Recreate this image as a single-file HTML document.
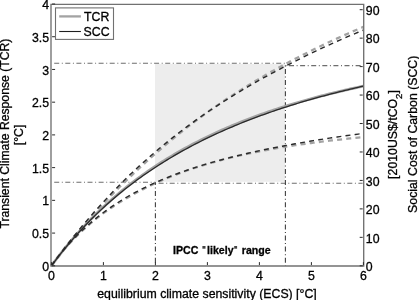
<!DOCTYPE html>
<html><head><meta charset="utf-8"><style>
html,body{margin:0;padding:0;background:#fff;width:419px;height:300px;overflow:hidden}
svg{display:block;will-change:transform}
text{font-family:"Liberation Sans",sans-serif;fill:#000;stroke:#000;stroke-width:0.3px}
</style></head><body>
<svg width="419" height="300" viewBox="0 0 419 300">
<rect x="155.0" y="64.0" width="130.00" height="117.80" fill="#ededed"/>
<path d="M52.20,63.25 L285.40,63.25" stroke="#6e6e6e" stroke-width="1.15" fill="none" stroke-dasharray="5 2.6 1 2.5" stroke-dashoffset="9.10"/>
<path d="M285.40,65.60 L362.60,65.60" stroke="#6e6e6e" stroke-width="1.15" fill="none" stroke-dasharray="5 2.6 1 2.5" stroke-dashoffset="7.50"/>
<path d="M52.20,182.20 L155.40,182.20" stroke="#6e6e6e" stroke-width="1.15" fill="none" stroke-dasharray="5 2.6 1 2.5" stroke-dashoffset="9.10"/>
<path d="M155.40,183.25 L362.60,183.25" stroke="#6e6e6e" stroke-width="1.15" fill="none" stroke-dasharray="5 2.6 1 2.5" stroke-dashoffset="7.90"/>
<path d="M155.40,182.20 L155.40,265.80" stroke="#404040" stroke-width="1.1" fill="none" stroke-dasharray="5 2.6 1 2.5" stroke-dashoffset="2.20"/>
<path d="M285.40,63.25 L285.40,265.80" stroke="#404040" stroke-width="1.1" fill="none" stroke-dasharray="5 2.6 1 2.5" stroke-dashoffset="5.35"/>
<path d="M51.40,265.80 L54.02,262.26 L56.64,258.77 L59.27,255.33 L61.89,251.93 L64.51,248.58 L67.13,245.28 L69.75,242.01 L72.37,238.79 L75.00,235.62 L77.62,232.48 L80.24,229.38 L82.86,226.33 L85.48,223.31 L88.11,220.33 L90.73,217.36 L93.35,214.43 L95.97,211.54 L98.59,208.68 L101.22,205.85 L103.84,203.06 L106.46,200.31 L109.08,197.58 L111.70,194.89 L114.32,192.24 L116.95,189.61 L119.57,187.01 L122.19,184.45 L124.81,181.91 L127.43,179.41 L130.06,176.91 L132.68,174.38 L135.30,171.88 L137.92,169.41 L140.54,166.97 L143.16,164.55 L145.79,162.16 L148.41,159.79 L151.03,157.45 L153.65,155.13 L156.27,152.84 L158.90,150.57 L161.52,148.33 L164.14,146.11 L166.76,143.91 L169.38,141.71 L172.01,139.54 L174.63,137.39 L177.25,135.26 L179.87,133.16 L182.49,131.07 L185.11,129.01 L187.74,126.96 L190.36,124.94 L192.98,122.93 L195.60,120.95 L198.22,118.98 L200.85,117.04 L203.47,115.11 L206.09,113.20 L208.71,111.33 L211.33,109.49 L213.95,107.67 L216.58,105.87 L219.20,104.08 L221.82,102.32 L224.44,100.56 L227.06,98.83 L229.69,97.11 L232.31,95.41 L234.93,93.72 L237.55,92.05 L240.17,90.40 L242.79,88.76 L245.42,87.13 L248.04,85.51 L250.66,83.91 L253.28,82.33 L255.90,80.76 L258.53,79.20 L261.15,77.66 L263.77,76.13 L266.39,74.61 L269.01,73.11 L271.64,71.62 L274.26,70.15 L276.88,68.68 L279.50,67.23 L282.12,65.79 L284.74,64.37 L287.37,62.96 L289.99,61.57 L292.61,60.19 L295.23,58.82 L297.85,57.46 L300.48,56.11 L303.10,54.78 L305.72,53.45 L308.34,52.14 L310.96,50.84 L313.58,49.55 L316.21,48.27 L318.83,47.00 L321.45,45.74 L324.07,44.49 L326.69,43.25 L329.32,42.02 L331.94,40.80 L334.56,39.59 L337.18,38.39 L339.80,37.20 L342.43,36.02 L345.05,34.85 L347.67,33.69 L350.29,32.54 L352.91,31.39 L355.53,30.26 L358.16,29.13 L360.78,28.02 L363.40,26.91" stroke="#a3a3a3" stroke-width="2.3" fill="none" stroke-dasharray="5 4.2"/>
<path d="M51.40,265.80 L54.02,262.21 L56.64,258.76 L59.27,255.43 L61.89,252.22 L64.51,249.12 L67.13,246.13 L69.75,243.24 L72.37,240.44 L75.00,237.74 L77.62,235.13 L80.24,232.60 L82.86,230.15 L85.48,227.77 L88.11,225.47 L90.73,223.22 L93.35,221.04 L95.97,218.93 L98.59,216.87 L101.22,214.88 L103.84,212.94 L106.46,211.05 L109.08,209.22 L111.70,207.44 L114.32,205.70 L116.95,204.02 L119.57,202.38 L122.19,200.78 L124.81,199.22 L127.43,197.70 L130.06,196.21 L132.68,194.73 L135.30,193.28 L137.92,191.86 L140.54,190.48 L143.16,189.13 L145.79,187.81 L148.41,186.52 L151.03,185.26 L153.65,184.03 L156.27,182.83 L158.90,181.65 L161.52,180.50 L164.14,179.37 L166.76,178.27 L169.38,177.20 L172.01,176.15 L174.63,175.12 L177.25,174.11 L179.87,173.12 L182.49,172.16 L185.11,171.21 L187.74,170.28 L190.36,169.37 L192.98,168.48 L195.60,167.61 L198.22,166.75 L200.85,165.91 L203.47,165.09 L206.09,164.28 L208.71,163.50 L211.33,162.75 L213.95,162.02 L216.58,161.30 L219.20,160.59 L221.82,159.89 L224.44,159.21 L227.06,158.54 L229.69,157.89 L232.31,157.24 L234.93,156.61 L237.55,155.99 L240.17,155.38 L242.79,154.79 L245.42,154.21 L248.04,153.65 L250.66,153.10 L253.28,152.57 L255.90,152.04 L258.53,151.52 L261.15,151.01 L263.77,150.51 L266.39,150.02 L269.01,149.54 L271.64,149.07 L274.26,148.60 L276.88,148.15 L279.50,147.70 L282.12,147.26 L284.74,146.82 L287.37,146.41 L289.99,146.00 L292.61,145.60 L295.23,145.21 L297.85,144.83 L300.48,144.45 L303.10,144.08 L305.72,143.72 L308.34,143.36 L310.96,143.01 L313.58,142.66 L316.21,142.32 L318.83,141.99 L321.45,141.66 L324.07,141.34 L326.69,141.02 L329.32,140.71 L331.94,140.41 L334.56,140.11 L337.18,139.81 L339.80,139.52 L342.43,139.24 L345.05,138.96 L347.67,138.68 L350.29,138.41 L352.91,138.15 L355.53,137.89 L358.16,137.63 L360.78,137.38 L363.40,137.13" stroke="#a3a3a3" stroke-width="2.3" fill="none" stroke-dasharray="5 4.2"/>
<path d="M51.40,265.80 L54.02,262.25 L56.64,258.76 L59.27,255.35 L61.89,252.01 L64.51,248.74 L67.13,245.53 L69.75,242.39 L72.37,239.31 L75.00,236.29 L77.62,233.33 L80.24,230.42 L82.86,227.57 L85.48,224.78 L88.11,222.03 L90.73,219.34 L93.35,216.70 L95.97,214.11 L98.59,211.57 L101.22,209.07 L103.84,206.62 L106.46,204.21 L109.08,201.85 L111.70,199.53 L114.32,197.25 L116.95,195.01 L119.57,192.81 L122.19,190.65 L124.81,188.52 L127.43,186.43 L130.06,184.38 L132.68,182.36 L135.30,180.38 L137.92,178.43 L140.54,176.51 L143.16,174.63 L145.79,172.78 L148.41,170.95 L151.03,169.16 L153.65,167.40 L156.27,165.66 L158.90,163.96 L161.52,162.28 L164.14,160.63 L166.76,159.00 L169.38,157.40 L172.01,155.83 L174.63,154.28 L177.25,152.76 L179.87,151.25 L182.49,149.78 L185.11,148.32 L187.74,146.89 L190.36,145.48 L192.98,144.09 L195.60,142.73 L198.22,141.38 L200.85,140.06 L203.47,138.75 L206.09,137.47 L208.71,136.20 L211.33,134.95 L213.95,133.72 L216.58,132.51 L219.20,131.32 L221.82,130.15 L224.44,128.99 L227.06,127.85 L229.69,126.72 L232.31,125.62 L234.93,124.53 L237.55,123.45 L240.17,122.39 L242.79,121.34 L245.42,120.32 L248.04,119.30 L250.66,118.30 L253.28,117.31 L255.90,116.34 L258.53,115.38 L261.15,114.44 L263.77,113.51 L266.39,112.59 L269.01,111.68 L271.64,110.79 L274.26,109.91 L276.88,109.04 L279.50,108.18 L282.12,107.34 L284.74,106.51 L287.37,105.69 L289.99,104.88 L292.61,104.08 L295.23,103.29 L297.85,102.51 L300.48,101.75 L303.10,100.99 L305.72,100.24 L308.34,99.51 L310.96,98.78 L313.58,98.07 L316.21,97.36 L318.83,96.66 L321.45,95.97 L324.07,95.30 L326.69,94.63 L329.32,93.97 L331.94,93.31 L334.56,92.67 L337.18,92.04 L339.80,91.41 L342.43,90.79 L345.05,90.18 L347.67,89.58 L350.29,88.98 L352.91,88.40 L355.53,87.82 L358.16,87.25 L360.78,86.68 L363.40,86.13" stroke="#a3a3a3" stroke-width="2.8" fill="none"/>
<path d="M51.40,265.80 L54.02,262.18 L56.64,258.60 L59.27,255.07 L61.89,251.59 L64.51,248.15 L67.13,244.76 L69.75,241.41 L72.37,238.10 L75.00,234.84 L77.62,231.62 L80.24,228.43 L82.86,225.29 L85.48,222.19 L88.11,219.12 L90.73,216.09 L93.35,213.08 L95.97,210.12 L98.59,207.19 L101.22,204.30 L103.84,201.44 L106.46,198.61 L109.08,195.82 L111.70,193.06 L114.32,190.33 L116.95,187.64 L119.57,184.97 L122.19,182.34 L124.81,179.74 L127.43,177.16 L130.06,174.62 L132.68,172.15 L135.30,169.70 L137.92,167.28 L140.54,164.88 L143.16,162.51 L145.79,160.17 L148.41,157.85 L151.03,155.56 L153.65,153.30 L156.27,151.06 L158.90,148.84 L161.52,146.65 L164.14,144.48 L166.76,142.34 L169.38,140.24 L172.01,138.16 L174.63,136.11 L177.25,134.08 L179.87,132.06 L182.49,130.07 L185.11,128.10 L187.74,126.15 L190.36,124.22 L192.98,122.31 L195.60,120.42 L198.22,118.55 L200.85,116.70 L203.47,114.87 L206.09,113.05 L208.71,111.27 L211.33,109.51 L213.95,107.77 L216.58,106.05 L219.20,104.34 L221.82,102.65 L224.44,100.98 L227.06,99.32 L229.69,97.68 L232.31,96.06 L234.93,94.45 L237.55,92.86 L240.17,91.29 L242.79,89.72 L245.42,88.17 L248.04,86.64 L250.66,85.11 L253.28,83.60 L255.90,82.11 L258.53,80.63 L261.15,79.16 L263.77,77.71 L266.39,76.27 L269.01,74.84 L271.64,73.43 L274.26,72.02 L276.88,70.64 L279.50,69.26 L282.12,67.90 L284.74,66.55 L287.37,65.19 L289.99,63.83 L292.61,62.48 L295.23,61.14 L297.85,59.82 L300.48,58.51 L303.10,57.21 L305.72,55.91 L308.34,54.64 L310.96,53.37 L313.58,52.11 L316.21,50.86 L318.83,49.63 L321.45,48.40 L324.07,47.19 L326.69,45.98 L329.32,44.78 L331.94,43.60 L334.56,42.42 L337.18,41.26 L339.80,40.10 L342.43,38.95 L345.05,37.82 L347.67,36.69 L350.29,35.57 L352.91,34.46 L355.53,33.36 L358.16,32.27 L360.78,31.18 L363.40,30.11" stroke="#2a2a2a" stroke-width="1.4" fill="none" stroke-dasharray="5 4.2"/>
<path d="M51.40,265.80 L54.02,262.19 L56.64,258.70 L59.27,255.34 L61.89,252.10 L64.51,248.97 L67.13,245.95 L69.75,243.03 L72.37,240.21 L75.00,237.48 L77.62,234.84 L80.24,232.28 L82.86,229.80 L85.48,227.40 L88.11,225.07 L90.73,222.78 L93.35,220.56 L95.97,218.41 L98.59,216.32 L101.22,214.28 L103.84,212.30 L106.46,210.38 L109.08,208.51 L111.70,206.69 L114.32,204.92 L116.95,203.20 L119.57,201.52 L122.19,199.88 L124.81,198.29 L127.43,196.73 L130.06,195.22 L132.68,193.77 L135.30,192.36 L137.92,190.98 L140.54,189.63 L143.16,188.32 L145.79,187.03 L148.41,185.78 L151.03,184.56 L153.65,183.36 L156.27,182.20 L158.90,181.06 L161.52,179.94 L164.14,178.85 L166.76,177.78 L169.38,176.73 L172.01,175.71 L174.63,174.70 L177.25,173.72 L179.87,172.76 L182.49,171.82 L185.11,170.90 L187.74,169.99 L190.36,169.11 L192.98,168.24 L195.60,167.40 L198.22,166.57 L200.85,165.75 L203.47,164.95 L206.09,164.17 L208.71,163.40 L211.33,162.63 L213.95,161.88 L216.58,161.15 L219.20,160.42 L221.82,159.71 L224.44,159.02 L227.06,158.34 L229.69,157.66 L232.31,157.01 L234.93,156.36 L237.55,155.73 L240.17,155.10 L242.79,154.49 L245.42,153.88 L248.04,153.27 L250.66,152.67 L253.28,152.08 L255.90,151.51 L258.53,150.94 L261.15,150.38 L263.77,149.83 L266.39,149.29 L269.01,148.75 L271.64,148.23 L274.26,147.72 L276.88,147.21 L279.50,146.71 L282.12,146.22 L284.74,145.74 L287.37,145.24 L289.99,144.75 L292.61,144.26 L295.23,143.79 L297.85,143.31 L300.48,142.85 L303.10,142.39 L305.72,141.94 L308.34,141.49 L310.96,141.05 L313.58,140.62 L316.21,140.19 L318.83,139.77 L321.45,139.36 L324.07,138.95 L326.69,138.55 L329.32,138.15 L331.94,137.76 L334.56,137.37 L337.18,136.99 L339.80,136.61 L342.43,136.24 L345.05,135.87 L347.67,135.51 L350.29,135.15 L352.91,134.80 L355.53,134.45 L358.16,134.11 L360.78,133.77 L363.40,133.43" stroke="#2a2a2a" stroke-width="1.4" fill="none" stroke-dasharray="5 4.2"/>
<path d="M51.40,265.80 L54.02,262.28 L56.64,258.83 L59.27,255.45 L61.89,252.14 L64.51,248.90 L67.13,245.72 L69.75,242.61 L72.37,239.56 L75.00,236.57 L77.62,233.64 L80.24,230.76 L82.86,227.95 L85.48,225.18 L88.11,222.47 L90.73,219.81 L93.35,217.20 L95.97,214.63 L98.59,212.12 L101.22,209.65 L103.84,207.23 L106.46,204.85 L109.08,202.51 L111.70,200.21 L114.32,197.96 L116.95,195.74 L119.57,193.57 L122.19,191.43 L124.81,189.33 L127.43,187.26 L130.06,185.23 L132.68,183.24 L135.30,181.28 L137.92,179.35 L140.54,177.45 L143.16,175.59 L145.79,173.75 L148.41,171.95 L151.03,170.17 L153.65,168.43 L156.27,166.71 L158.90,165.02 L161.52,163.35 L164.14,161.71 L166.76,160.10 L169.38,158.52 L172.01,156.95 L174.63,155.42 L177.25,153.90 L179.87,152.41 L182.49,150.94 L185.11,149.49 L187.74,148.07 L190.36,146.66 L192.98,145.28 L195.60,143.92 L198.22,142.58 L200.85,141.25 L203.47,139.95 L206.09,138.67 L208.71,137.40 L211.33,136.15 L213.95,134.92 L216.58,133.71 L219.20,132.51 L221.82,131.33 L224.44,130.17 L227.06,129.02 L229.69,127.89 L232.31,126.78 L234.93,125.68 L237.55,124.59 L240.17,123.52 L242.79,122.47 L245.42,121.43 L248.04,120.40 L250.66,119.39 L253.28,118.39 L255.90,117.40 L258.53,116.43 L261.15,115.47 L263.77,114.52 L266.39,113.58 L269.01,112.66 L271.64,111.75 L274.26,110.85 L276.88,109.96 L279.50,109.08 L282.12,108.22 L284.74,107.36 L287.37,106.52 L289.99,105.68 L292.61,104.86 L295.23,104.05 L297.85,103.25 L300.48,102.46 L303.10,101.67 L305.72,100.90 L308.34,100.14 L310.96,99.39 L313.58,98.64 L316.21,97.91 L318.83,97.18 L321.45,96.47 L324.07,95.76 L326.69,95.06 L329.32,94.37 L331.94,93.69 L334.56,93.01 L337.18,92.35 L339.80,91.69 L342.43,91.04 L345.05,90.40 L347.67,89.77 L350.29,89.14 L352.91,88.52 L355.53,87.91 L358.16,87.31 L360.78,86.72 L363.40,86.13" stroke="#2a2a2a" stroke-width="1.3" fill="none"/>
<path d="M51.0,4.3 H363.7 V266.0 H51.0 Z" fill="none" stroke="#717171" stroke-width="1.35"/>
<path d="M52.10,265.80 h3 M52.10,233.08 h3 M52.10,200.35 h3 M52.10,167.62 h3 M52.10,134.90 h3 M52.10,102.18 h3 M52.10,69.45 h3 M52.10,36.72 h3 M52.10,4.00 h3 M51.40,265.10 v-3 M103.40,265.10 v-3 M155.40,265.10 v-3 M207.40,265.10 v-3 M259.40,265.10 v-3 M311.40,265.10 v-3 M363.40,265.10 v-3 M362.70,265.80 h-3 M362.70,237.34 h-3 M362.70,208.89 h-3 M362.70,180.43 h-3 M362.70,151.97 h-3 M362.70,123.52 h-3 M362.70,95.06 h-3 M362.70,66.60 h-3 M362.70,38.15 h-3 M362.70,9.69 h-3" stroke="#2a2a2a" stroke-width="1" fill="none"/>
<rect x="55.5" y="7.9" width="58" height="31.5" fill="#fff" stroke="#717171" stroke-width="1.1"/>
<path d="M59.2,16.4 H80.9" stroke="#a3a3a3" stroke-width="2.3"/>
<path d="M59.2,31.5 H80.9" stroke="#1e1e1e" stroke-width="1.1"/>
<text x="49.00" y="270.90" text-anchor="end" font-size="12.3" font-weight="normal" >0</text>
<text x="49.00" y="238.18" text-anchor="end" font-size="12.3" font-weight="normal" >0.5</text>
<text x="49.00" y="205.45" text-anchor="end" font-size="12.3" font-weight="normal" >1</text>
<text x="49.00" y="172.72" text-anchor="end" font-size="12.3" font-weight="normal" >1.5</text>
<text x="49.00" y="140.00" text-anchor="end" font-size="12.3" font-weight="normal" >2</text>
<text x="49.00" y="107.28" text-anchor="end" font-size="12.3" font-weight="normal" >2.5</text>
<text x="49.00" y="74.55" text-anchor="end" font-size="12.3" font-weight="normal" >3</text>
<text x="49.00" y="41.82" text-anchor="end" font-size="12.3" font-weight="normal" >3.5</text>
<text x="49.00" y="9.10" text-anchor="end" font-size="12.3" font-weight="normal" >4</text>
<text x="365.80" y="271.00" text-anchor="start" font-size="12.3" font-weight="normal" >0</text>
<text x="365.80" y="242.54" text-anchor="start" font-size="12.3" font-weight="normal" >10</text>
<text x="365.80" y="214.09" text-anchor="start" font-size="12.3" font-weight="normal" >20</text>
<text x="365.80" y="185.63" text-anchor="start" font-size="12.3" font-weight="normal" >30</text>
<text x="365.80" y="157.17" text-anchor="start" font-size="12.3" font-weight="normal" >40</text>
<text x="365.80" y="128.72" text-anchor="start" font-size="12.3" font-weight="normal" >50</text>
<text x="365.80" y="100.26" text-anchor="start" font-size="12.3" font-weight="normal" >60</text>
<text x="365.80" y="71.80" text-anchor="start" font-size="12.3" font-weight="normal" >70</text>
<text x="365.80" y="43.35" text-anchor="start" font-size="12.3" font-weight="normal" >80</text>
<text x="365.80" y="14.89" text-anchor="start" font-size="12.3" font-weight="normal" >90</text>
<text x="51.40" y="279.60" text-anchor="middle" font-size="12.3" font-weight="normal" >0</text>
<text x="103.40" y="279.60" text-anchor="middle" font-size="12.3" font-weight="normal" >1</text>
<text x="155.40" y="279.60" text-anchor="middle" font-size="12.3" font-weight="normal" >2</text>
<text x="207.40" y="279.60" text-anchor="middle" font-size="12.3" font-weight="normal" >3</text>
<text x="259.40" y="279.60" text-anchor="middle" font-size="12.3" font-weight="normal" >4</text>
<text x="311.40" y="279.60" text-anchor="middle" font-size="12.3" font-weight="normal" >5</text>
<text x="363.40" y="279.60" text-anchor="middle" font-size="12.3" font-weight="normal" >6</text>
<text x="84.00" y="21.10" text-anchor="start" font-size="12.3" font-weight="normal" >TCR</text>
<text x="83.60" y="35.80" text-anchor="start" font-size="12.3" font-weight="normal" >SCC</text>
<text x="207.00" y="298.10" text-anchor="middle" font-size="12.3" font-weight="normal" >equilibrium climate sensitivity (ECS) [°C]</text>
<text x="173.00" y="254.00" text-anchor="start" font-size="10.6" font-weight="bold" >IPCC</text>
<text x="207.10" y="254.00" text-anchor="start" font-size="10.6" font-weight="bold" >likely</text>
<text x="241.80" y="254.00" text-anchor="start" font-size="10.6" font-weight="bold" >range</text>
<rect x="202.4" y="246.0" width="3.1" height="2.7" fill="#444"/>
<rect x="234.2" y="246.0" width="2.9" height="2.7" fill="#444"/>
<text transform="translate(8.9,133.6) rotate(-90)" text-anchor="middle" font-size="12.2">Transient Climate Response (TCR)</text>
<text transform="translate(22.9,134.9) rotate(-90)" text-anchor="middle" font-size="12.3">[°C]</text>
<text transform="translate(397,134.5) rotate(-90)" text-anchor="middle" font-size="12.3">[2010US$/tCO<tspan font-size="9.6" dy="5.3">2</tspan><tspan dy="-5.3">]</tspan></text>
<text transform="translate(416.5,134.3) rotate(-90)" text-anchor="middle" font-size="12.3">Social Cost of Carbon (SCC)</text>
</svg>
</body></html>
